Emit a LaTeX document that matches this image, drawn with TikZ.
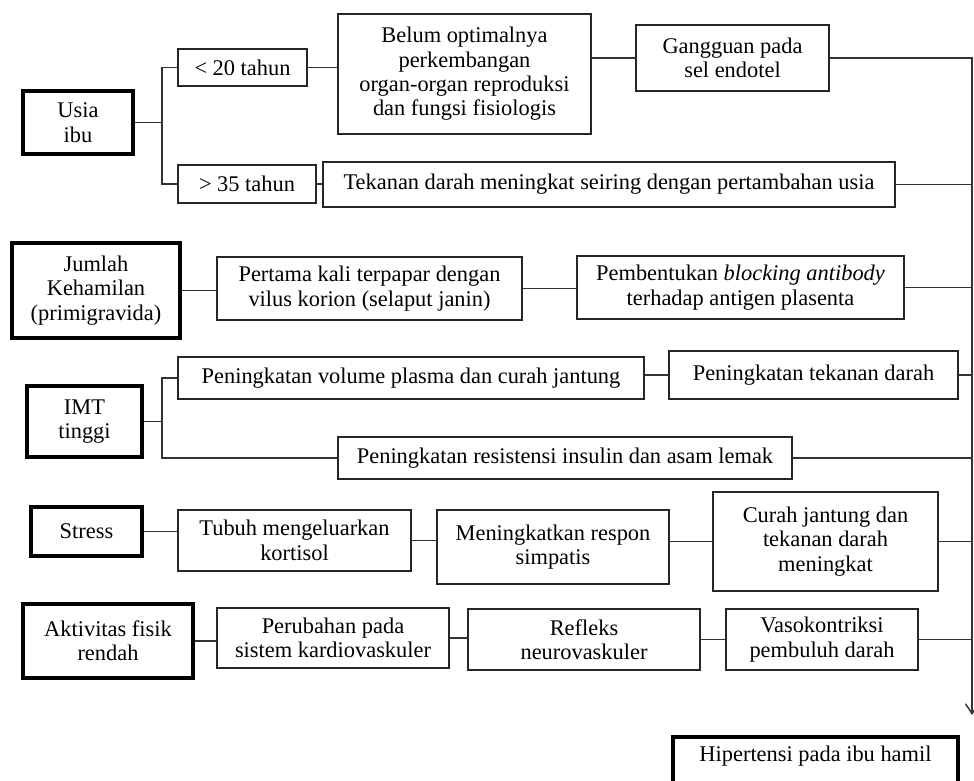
\documentclass[tikz,border=0pt]{standalone}
\usepackage{fontspec}
\setmainfont{Liberation Serif}
\usepackage{tikz}
\usetikzlibrary{arrows.meta}
\newcommand{\teks}{\fontsize{11.2}{12.2}\selectfont}

\begin{document}
\begin{tikzpicture}[x=0.5pt,y=-0.5pt,>={Straight Barb[length=5pt,width=6.5pt]},
	kotak/.style={draw=black!85,line width=0.7pt,align=center,inner sep=2pt,font=\teks},
	faktor/.style={kotak,draw=black,line width=2pt},
	garis/.style={draw=black!80,line width=0.7pt}]
	\useasboundingbox (0,0) rectangle (974,781);
	\clip (0,0) rectangle (974,781);

	% usia ibu
	\node[faktor,minimum width=55pt,minimum height=31.5pt] (usia) at (78,122.5) {Usia\\ibu};
	\node[kotak,minimum width=64.5pt,minimum height=18.5pt] (lt20) at (242.5,67.5) {< 20 tahun};
	\node[kotak,minimum width=69pt,minimum height=19pt] (gt35) at (247,184) {> 35 tahun};
	\node[kotak,minimum width=126.5pt,minimum height=60pt] (belum) at (464.5,74) {Belum optimalnya\\perkembangan\\organ-organ reproduksi\\dan fungsi fisiologis};
	\node[kotak,minimum width=96.5pt,minimum height=33pt] (endotel) at (732.5,58) {Gangguan pada\\sel endotel};
	\node[kotak,minimum width=286pt,minimum height=22.5pt] (usiatua) at (609,184.5) {Tekanan darah meningkat seiring dengan pertambahan usia};

	% jumlah kehamilan
	\node[faktor,minimum width=84pt,minimum height=47.5pt] (jumlah) at (96,290.5) {Jumlah\\Kehamilan\\(primigravida)};
	\node[kotak,minimum width=152.5pt,minimum height=31.5pt] (korion) at (369.5,288.5) {Pertama kali terpapar dengan\\vilus korion (selaput janin)};
	\node[kotak,minimum width=163.5pt,minimum height=31.5pt] (antibodi) at (740.5,287.5) {Pembentukan \textit{blocking antibody}\\terhadap antigen plasenta};

	% IMT
	\node[faktor,minimum width=57.5pt,minimum height=35.5pt] (imt) at (84.5,421.5) {IMT\\tinggi};
	\node[kotak,minimum width=233pt,minimum height=21pt] (plasma) at (411,378) {Peningkatan volume plasma dan curah jantung};
	\node[kotak,minimum width=144.5pt,minimum height=24pt] (tekanan) at (813.5,375) {Peningkatan tekanan darah};
	\node[kotak,minimum width=227pt,minimum height=21pt] (insulin) at (565,458) {Peningkatan resistensi insulin dan asam lemak};

	% stress
	\node[faktor,minimum width=55.5pt,minimum height=24.5pt] (stress) at (86.5,531.5) {Stress};
	\node[kotak,minimum width=116.5pt,minimum height=30.5pt] (kortisol) at (294.5,540.5) {Tubuh mengeluarkan\\kortisol};
	\node[kotak,minimum width=116pt,minimum height=37pt] (simpatis) at (553,547) {Meningkatkan respon\\simpatis};
	\node[kotak,minimum width=112.5pt,minimum height=49.5pt] (curah) at (825.5,541.5) {Curah jantung dan\\tekanan darah\\meningkat};

	% aktivitas fisik
	\node[faktor,minimum width=85pt,minimum height=37pt] (fisik) at (108,641) {Aktivitas fisik\\rendah};
	\node[kotak,minimum width=116pt,minimum height=30pt] (kardio) at (333,638) {Perubahan pada\\sistem kardiovaskuler};
	\node[kotak,minimum width=116pt,minimum height=30.5pt] (refleks) at (584,639.5) {Refleks\\neurovaskuler};
	\node[kotak,minimum width=96pt,minimum height=30.5pt] (vaso) at (822,639.5) {Vasokontriksi\\pembuluh darah};

	\node[faktor,anchor=north,minimum width=142.5pt,inner ysep=4pt,text height=8pt,text depth=18pt] (hipertensi) at (815.5,735) {Hipertensi pada ibu hamil};

	\coordinate (jU) at (162,122.5);
	\coordinate (jI) at (162,421.5);
	\coordinate (bus) at (972,715);

	\draw[garis] (usia) -- (jU);
	\draw[garis] (lt20) -| (jU) |- (gt35);
	\draw[garis] (lt20.east) -- (lt20.east -| belum.west);
	\draw[garis] (endotel.west -| belum.east) -- (endotel.west);
	\draw[garis] (gt35.east) -- (gt35.east -| usiatua.west);

	\draw[garis] (jumlah.east) -- (jumlah.east -| korion.west);
	\draw[garis] (korion.east) -- (korion.east -| antibodi.west);

	\draw[garis] (imt) -- (jI);
	\draw[garis] (plasma) -| (jI) |- (insulin);
	\draw[garis] (tekanan.west -| plasma.east) -- (tekanan.west);

	\draw[garis] (stress.east) -- (stress.east -| kortisol.west);
	\draw[garis] (kortisol.east) -- (kortisol.east -| simpatis.west);
	\draw[garis] (curah.west -| simpatis.east) -- (curah.west);

	\draw[garis] (fisik.east) -- (fisik.east -| kardio.west);
	\draw[garis] (kardio.east) -- (kardio.east -| refleks.west);
	\draw[garis] (refleks.east) -- (refleks.east -| vaso.west);

	% garis kanan ke hipertensi
	\draw[garis,->] (endotel) -| (bus);
	\foreach \n in {usiatua,antibodi,tekanan,insulin,curah,vaso}
		\draw[garis] (\n.east) -- (\n.east -| bus);

\end{tikzpicture}
\end{document}
